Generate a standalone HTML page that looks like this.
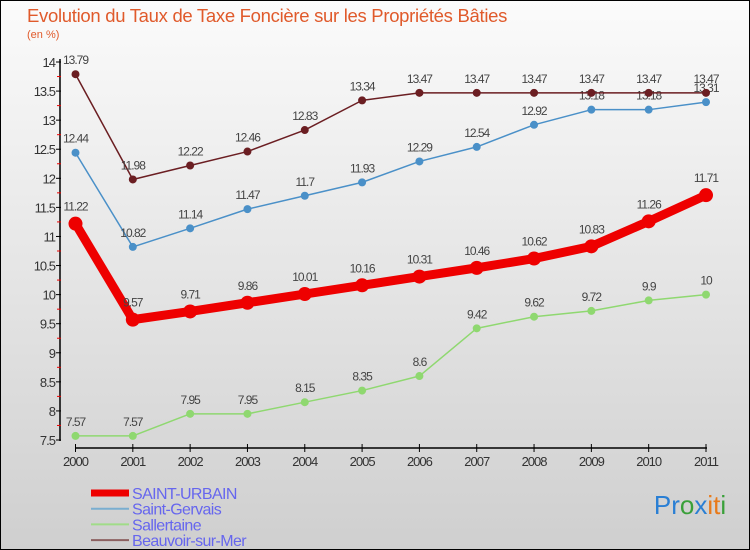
<!DOCTYPE html>
<html><head><meta charset="utf-8"><style>
body{margin:0;width:750px;height:550px;overflow:hidden;font-family:"Liberation Sans",sans-serif}
#wrap{position:absolute;left:0;top:0;width:748px;height:548px;border:1px solid #000;background:linear-gradient(#fbfbfb,#cfcfcf)}
</style></head><body>
<div id="wrap">
<svg id="svg" width="750" height="550" style="position:absolute;left:-1px;top:-1px">
<text x="27" y="22" font-size="18.5" fill="#e05a2b" letter-spacing="-0.3">Evolution du Taux de Taxe Foncière sur les Propriétés Bâties</text>
<text x="27" y="38" font-size="11" fill="#e05a2b">(en %)</text>
<text x="690" y="514" font-size="26" text-anchor="middle"><tspan fill="#2a7fd4">Pr</tspan><tspan fill="#3aa03a">o</tspan><tspan fill="#2a7fd4">x</tspan><tspan fill="#e87a1a">it</tspan><tspan fill="#3aa03a">i</tspan></text>
</svg>
</div>
<script>
const years=[2000,2001,2002,2003,2004,2005,2006,2007,2008,2009,2010,2011];
const saintUrbain=[11.22,9.57,9.71,9.86,10.01,10.16,10.31,10.46,10.62,10.83,11.26,11.71];
const saintGervais=[12.44,10.82,11.14,11.47,11.7,11.93,12.29,12.54,12.92,13.18,13.18,13.31];
const sallertaine=[7.57,7.57,7.95,7.95,8.15,8.35,8.6,9.42,9.62,9.72,9.9,10];
const beauvoir=[13.79,11.98,12.22,12.46,12.83,13.34,13.47,13.47,13.47,13.47,13.47,13.47];
const yTicks=[7.5,8,8.5,9,9.5,10,10.5,11,11.5,12,12.5,13,13.5,14];
const NS="http://www.w3.org/2000/svg";
const svg=document.getElementById('svg');
const X=i=>75.5+i*(706-75.5)/11;
const Y=v=>440-(v-7.5)*(440-62)/6.5;
function mk(t,a,p){const e=document.createElementNS(NS,t);for(const k in a)e.setAttribute(k,a[k]);(p||svg).appendChild(e);return e;}
let ax=mk('line',{x1:60,y1:59,x2:60,y2:441,stroke:'#000','stroke-width':1.5});


let bx=mk('line',{x1:75,y1:448,x2:707,y2:448,stroke:'#000','stroke-width':1.5});


yTicks.forEach(v=>{
 mk('line',{x1:56,y1:Y(v),x2:61,y2:Y(v),stroke:'#000'});
 if(v<14)mk('line',{x1:57,y1:Y(v+0.25),x2:61,y2:Y(v+0.25),stroke:'#e00'});
 const t=mk('text',{x:55,y:Y(v)+5,'font-size':13,fill:'#333','text-anchor':'end','letter-spacing':'-1'});
 t.textContent=String(v);
 
 
});
years.forEach((y,i)=>{
 mk('line',{x1:X(i),y1:444,x2:X(i),y2:452,stroke:'#000'});
 const t=mk('text',{x:X(i),y:466,'font-size':13,fill:'#333','text-anchor':'middle','letter-spacing':'-1'});
 t.textContent=y;
 
 
});
function series(data,color,w,r,name){
 const g=mk('g',{});
 
 
 mk('polyline',{points:data.map((v,i)=>X(i)+','+Y(v)).join(' '),fill:'none',stroke:color,'stroke-width':w,'stroke-linejoin':'round'},g);
 data.forEach((v,i)=>{
  const c=mk('circle',{cx:X(i),cy:Y(v),r:r,fill:color},g);
  
  
  const t=mk('text',{x:X(i),y:Y(v)-(r+6),'font-size':12,fill:'#444','text-anchor':'middle','letter-spacing':'-1'},g);
  t.textContent=String(v);
  
  
 });
}
series(sallertaine,'#8fd870',1.5,4,'sallertaine-series');
series(saintGervais,'#4a90c8',1.5,4,'saint-gervais-series');
series(beauvoir,'#6b1e22',1.5,4,'beauvoir-series');
series(saintUrbain,'#ee0000',9,7,'saint-urbain-series');
const leg=[['SAINT-URBAIN','#ee0000',7],['Saint-Gervais','#7aaed0',2],['Sallertaine','#a0dc88',2],['Beauvoir-sur-Mer','#8c6060',2]];
leg.forEach((l,i)=>{
 const yy=493+i*15.7;
 const g=mk('g',{});
 
 
 mk('line',{x1:91,y1:yy,x2:129,y2:yy,stroke:l[1],'stroke-width':l[2]},g);
 const t=mk('text',{x:132,y:yy+6,'font-size':16,fill:'#6666ee','letter-spacing':'-0.6'},g);
 t.textContent=l[0];
});
</script>
</body></html>
